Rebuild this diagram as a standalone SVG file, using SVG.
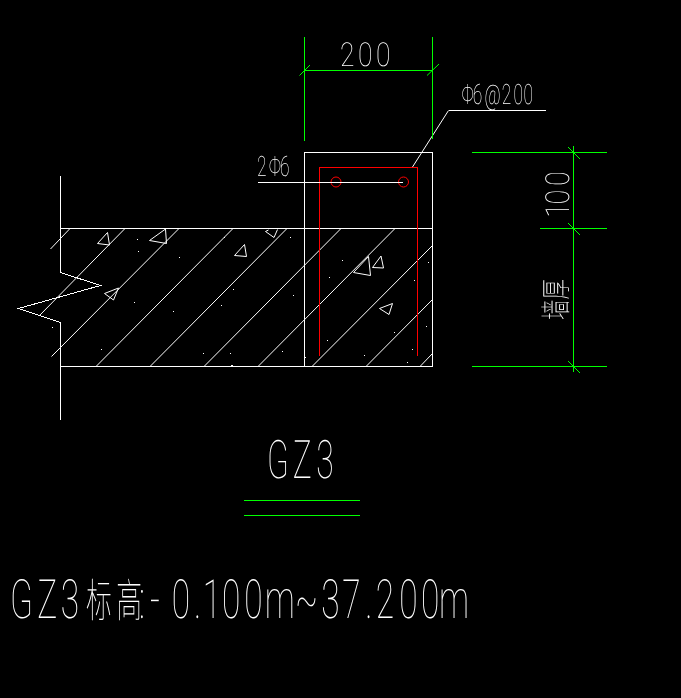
<svg xmlns="http://www.w3.org/2000/svg" width="681" height="698" viewBox="0 0 681 698">
<style>
.l{fill:none;stroke:#fff;stroke-width:1;shape-rendering:crispEdges}
.h{fill:none;stroke:#fff;stroke-width:1}
.g{fill:none;stroke:#0f0;stroke-width:1;shape-rendering:crispEdges}
.r{fill:none;stroke:#f00;stroke-width:1}
.t{fill:#fff;font-family:"Roboto","Liberation Sans","Noto Sans CJK SC",sans-serif;font-weight:100;text-rendering:geometricPrecision}
</style>
<rect width="681" height="698" fill="#000"/>
<g id="hatch">
<path class="h" d="M70 228.5L50.5 249M125 228.5L39.500 315.500M179 228.500L51.500 356.500M233 228.500L96 366.500M287 228.500L150 366.500M341 228.500L204 366.500M395 228.500L258 366.500M432 246L312 366.500M432 300L366 366.500M432 354L420 366.500"/>
</g>
<g id="aggregate">
<path class="h" d="M107.500 232.500L97.500 243.500L109.500 245ZM165.500 229L149.500 240.500L166.500 243.500ZM268.500 230L265.500 231.500L274 237.500L277.500 229.500M244.500 244.500L234.500 255.500L246.500 256.500ZM118.500 288L104.500 293.500L113.500 300ZM368.500 256.500L353.500 272.500L370.500 275.500ZM381 256L372.500 267.500L383.500 268ZM392.500 303.500L379.500 308.500L389 314.500Z"/>
<path fill="#fff" d="M137 239h1v1h-1zM138 251h1v1h-1zM179 257h1v1h-1zM224 237h1v1h-1zM290 237h1v1h-1zM233 289h1v1h-1zM293 295h1v1h-1zM221 305h1v1h-1zM173 311h1v1h-1zM134 302h1v1h-1zM52 327h1v1h-1zM101 349h1v1h-1zM203 353h1v1h-1zM230 353h1v1h-1zM282 351h1v1h-1zM231 365h2v1h-2zM305 357h1v1h-1zM342 260h1v1h-1zM329 277h1v1h-1zM428 262h1v1h-1zM414 280h1v1h-1zM394 332h1v1h-1zM426 326h1v1h-1zM327 340h1v1h-1zM412 349h1v1h-1zM364 355h1v1h-1zM407 362h1v1h-1z"/>
</g>
<g id="wall">
<path class="l" d="M60.500 175.500V272.500L100.500 285.500L18.500 308.500L60.500 322.500V419.500"/>
<path class="l" d="M60 228.500H432M60 366.500H432"/>
</g>
<g id="column">
<rect class="l" x="304.500" y="152.500" width="128" height="214"/>
</g>
<g id="stirrup">
<path class="r" style="shape-rendering:crispEdges" d="M319.500 356V167.500H417.500V356"/>
</g>
<g id="bars">
<circle class="r" cx="336" cy="182" r="5"/>
<circle class="r" cx="403.500" cy="182" r="5"/>
</g>
<g id="connectors">
<path class="l" d="M258 182.500H403"/>
<path class="h" d="M412.500 167L448.500 110.500"/>
<path class="l" d="M448.500 110.500H546"/>
</g>
<g id="dimensions">
<path class="g" d="M304.500 37V141M432.500 37V139M304 70.500H432"/>
<path class="g" style="shape-rendering:auto" d="M299.500 75.500L310 65M427 75.500L439 64M568 147L580 159M568 223L580 235M568 361L580 373"/>
<path class="g" d="M472 152.500H607M540 228.500H607M472 366.500H607M573.500 146V372"/>
</g>
<g id="title-lines">
<path class="g" d="M244 500.500H360M244 515.500H360"/>
</g>
<g id="labels" opacity="0.999">
<text class="t" font-size="33" transform="translate(340 66) scale(.8 1)" x="0 22.500 45">200</text>
<text class="t" font-size="28" transform="translate(461.500 103.500) scale(.62 1)" x="0 18 37 65 84 100">Φ6@200</text>
<text class="t" font-size="28" transform="translate(257 176) scale(.62 1)" x="0 19 37">2Φ6</text>
<text class="t" font-size="33" transform="translate(569 217) rotate(-90) scale(.8 1)" x="-1 16 39">100</text>
<text class="t" font-size="31" transform="translate(567 320) rotate(-90) scale(.66 1)">墙厚</text>
<text class="t" font-size="53" transform="translate(267 478) scale(.6 1)" x="0 43 82">GZ3</text>
<text class="t" font-size="54" transform="translate(0 618) scale(.62 1)" x="16 60 98">GZ3</text>
<text class="t" font-size="46" transform="translate(86 617) scale(.56 1)" x="0 54">标高</text>
<text class="t" font-size="54" transform="translate(0 618) scale(.62 1)" x="224 242 277 313 327 358 394 427 476 518 552 589 606 644 679 708">:-0.100m~37.200m</text>
</g>
</svg>
